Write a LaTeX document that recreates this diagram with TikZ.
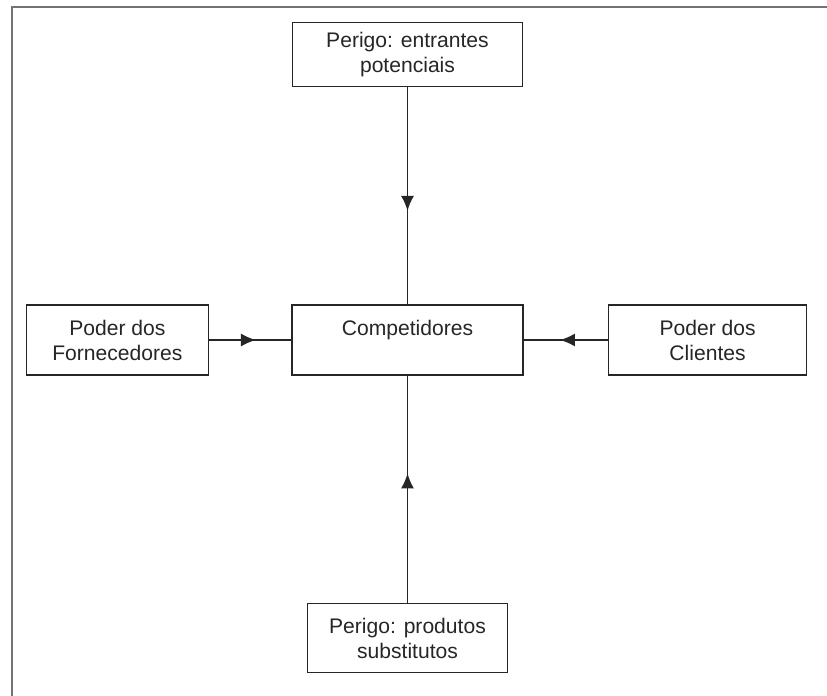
\documentclass[tikz,border=0pt]{standalone}
\usepackage{fontspec}
\setmainfont{Liberation Sans}
\usetikzlibrary{arrows.meta,positioning,decorations.markings}

\begin{document}
\begin{tikzpicture}[
  node distance=4.4cm and 1.65cm,
  forca/.style={rectangle, draw=black!85, line width=0.9pt, align=center,
                minimum height=1.4cm, text=black!85,
                font=\fontsize{12}{14.2}\selectfont},
  seta/.style={draw=black!85, line width=0.9pt,
               postaction={decorate},
               decoration={markings, mark=at position 0.57 with
                 {\arrow{Latex[length=3mm, width=2.6mm]}}}}
]
\useasboundingbox (0,0) rectangle (16.54,-13.92);
\draw[black!55, line width=1.1pt] (0.24,-13.92) |- (16.54,-0.14);

\node[forca, minimum width=4.62cm] (comp) at (8.15,-6.8) {Competidores\\\phantom{C}};
\node[forca, minimum width=4.6cm, minimum height=1.28cm, above=4.34cm of comp] (entr) {Perigo: entrantes\\potenciais};
\node[forca, minimum width=3.64cm, left=1.64cm of comp] (forn) {Poder dos\\Fornecedores};
\node[forca, minimum width=3.96cm, right=1.68cm of comp] (clie) {Poder dos\\Clientes};
\node[forca, minimum width=4cm, minimum height=1.38cm, below=4.54cm of comp] (subs) {Perigo: produtos\\substitutos};

\draw[seta] (entr) -- (comp);
\draw[seta] (forn) -- (comp);
\draw[seta] (clie) -- (comp);
\draw[seta] (subs) -- (comp);

\end{tikzpicture}
\end{document}
